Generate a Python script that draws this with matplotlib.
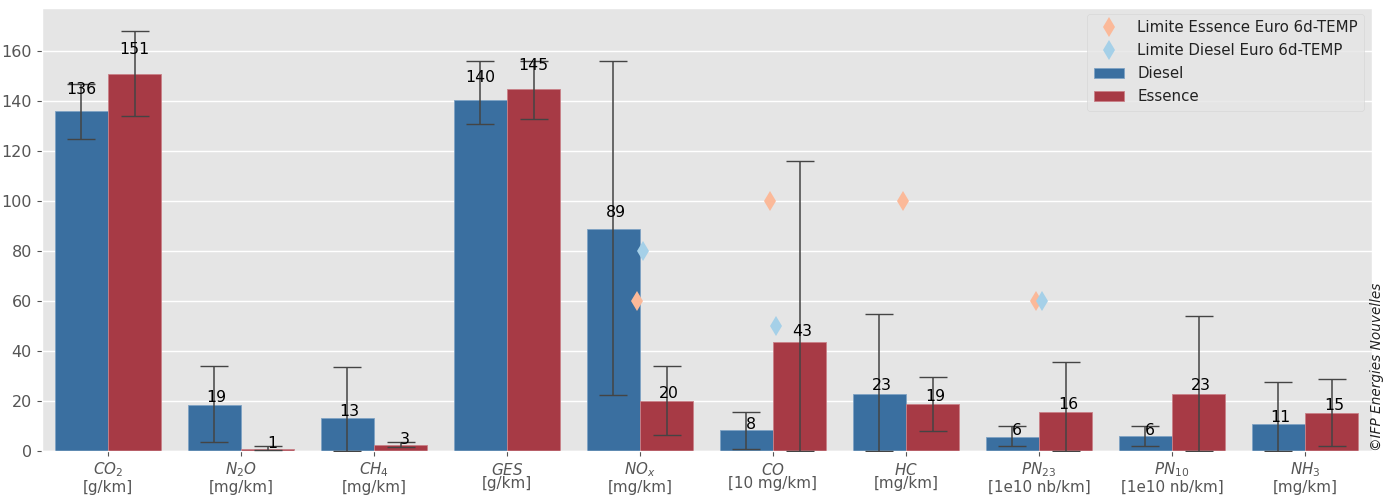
import numpy as np
import matplotlib
matplotlib.use('Agg')
import matplotlib.pyplot as plt

plt.style.use('ggplot')

# valeurs
polluants = ['$CO_2$\n[g/km]', '$N_2O$\n[mg/km]', '$CH_4$\n[mg/km]', '$GES_{\\,}$\n[g/km]', '$NO_x$\n[mg/km]',
             '$CO_{\\,}$\n[10 mg/km]', '$HC_{\\,}$\n[mg/km]', '$PN_{23}$\n[1e10 nb/km]', '$PN_{10}$\n[1e10 nb/km]', '$NH_3$\n[mg/km]']
diesel = [136, 18.5, 13.2, 140.3, 89, 8.3, 23, 5.8, 6, 10.8]
essence = [151, 0.8, 2.4, 145, 20, 43.5, 18.8, 15.8, 23, 15.4]
diesel_lab = ['136', '19', '13', '140', '89', '8', '23', '6', '6', '11']
essence_lab = ['151', '1', '3', '145', '20', '43', '19', '16', '23', '15']
diesel_min = [125, 3.5, 0, 131, 22.5, 1, 0, 2, 2, 0]
diesel_max = [147, 34, 33.5, 156, 156, 15.5, 55, 10, 10, 27.5]
essence_min = [134, 0.5, 1.5, 133, 6.5, 0, 8, 0, 0, 2]
essence_max = [168, 2, 3.5, 156, 34, 116, 29.5, 35.5, 54, 29]
lim_essence = [np.nan, np.nan, np.nan, np.nan, 60, 100, 100, 60, np.nan, np.nan]
lim_diesel = [np.nan, np.nan, np.nan, np.nan, 80, 50, np.nan, 60, np.nan, np.nan]

c_diesel = '#3a6fa0'
c_essence = '#a73a45'
w = 0.4
x = np.arange(len(polluants))

fig = plt.figure(figsize=(13.94, 5), dpi=100)
ax = fig.add_axes([41.5/1394, 1-451/500, 1330/1394, 443/500])

l1, = ax.plot(x-0.025, lim_essence, 'd', color='#fbb999', ms=10.5, mew=0, zorder=4, label='Limite Essence Euro 6d-TEMP')
l2, = ax.plot(x+0.025, lim_diesel, 'd', color='#a5d0e8', ms=10.5, mew=0, zorder=4, label='Limite Diesel Euro 6d-TEMP')
b1 = ax.bar(x-w/2, diesel, w, color=c_diesel, edgecolor='#7fa3c4', lw=0.6, label='Diesel', zorder=2)
b2 = ax.bar(x+w/2, essence, w, color=c_essence, edgecolor='#c98088', lw=0.6, label='Essence', zorder=2)

def err(pos, val, lo, hi):
    val = np.array(val)
    yerr = [val-np.array(lo), np.array(hi)-val]
    ax.errorbar(pos, val, yerr=yerr, fmt='none', ecolor='#444444', elinewidth=1.1, capsize=10, capthick=1.0, zorder=3)

err(x-w/2, diesel, diesel_min, diesel_max)
err(x+w/2, essence, essence_min, essence_max)

def labels(pos, val, txt):
    for p, v, t in zip(pos, val, txt):
        # le texte monte avec la valeur, comme sur la figure d'origine
        ax.annotate(t, (p, v*1.05+2), xytext=((3-len(t))*1.6, 0), textcoords='offset points',
                    ha='center', va='center', fontsize=11.3, color='black', zorder=5)

labels(x-w/2, diesel, diesel_lab)
labels(x+w/2, essence, essence_lab)

ax.set_xlim(-0.5, 9.5)
ax.set_ylim(0, 177.2)
ax.set_yticks(range(0, 161, 20))
ax.set_xticks(x)
ax.set_xticklabels(polluants, fontsize=10.9, color='#555555', linespacing=1.05)
ax.tick_params(axis='y', labelsize=11.5, labelcolor='#555555')
ax.grid(axis='x', visible=False)
ax.grid(axis='y', color='white', lw=1.0)
ax.set_axisbelow(True)

leg = ax.legend(handles=[l1, l2, b1, b2], loc='upper right', bbox_to_anchor=(0.9947, 0.9865), borderaxespad=0,
                fontsize=10.85, facecolor='#e5e5e5', edgecolor='#d4d4d4', framealpha=0.8,
                labelspacing=0.53, handlelength=2.0, handletextpad=0.9, borderpad=0.42, labelcolor='#222222')

fig.text(1377/1394, 1-451/500, '©IFP Energies Nouvelles', rotation=90, style='italic', fontsize=9.8,
         color='#222222', ha='center', va='bottom')

fig.savefig('out.png', dpi=100)
